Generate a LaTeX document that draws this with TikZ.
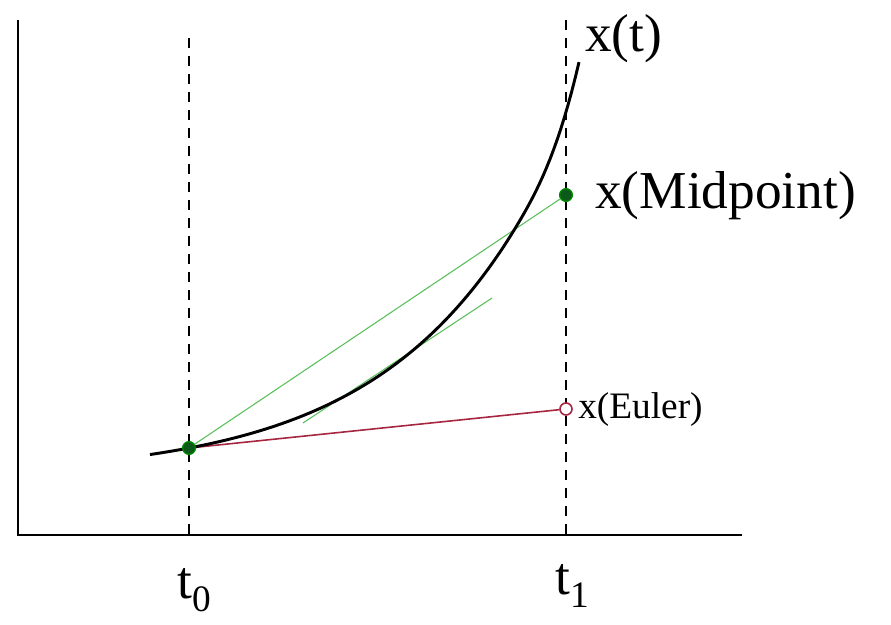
\documentclass[tikz,border=0pt]{standalone}
\usepackage{fontspec}
\setmainfont{Liberation Serif}
\usepackage{xcolor}
\usetikzlibrary{positioning,calc}

\definecolor{midgreen}{rgb}{0.35,0.75,0.35}
\definecolor{dotgreen}{rgb}{0.05,0.35,0.1}
\definecolor{eulerred}{rgb}{0.65,0.15,0.25}

\tikzset{
  axis/.style={line width=2.2pt},
  guide/.style={line width=0.8pt,dash pattern=on 7.5pt off 6pt},
  curve/.style={line width=2.2pt},
  dotfill/.style={draw=green!55!black,fill=dotgreen,circle,inner sep=0pt,minimum size=9.5pt,line width=0.8pt},
  dotopen/.style={draw=eulerred,fill=white,circle,inner sep=0pt,minimum size=9pt,line width=1.2pt},
  biglabel/.style={inner sep=0pt,anchor=base west,font=\fontsize{40}{46}\selectfont},
  smalllabel/.style={inner sep=0pt,anchor=base west,font=\fontsize{28}{32}\selectfont}
}

\begin{document}
\begin{tikzpicture}[x=0.75pt,y=-0.75pt]
\useasboundingbox (0,0) rectangle (891,624);

% axes and time lines
\coordinate (o) at (18,535);
\coordinate (ytop) at (18,20);
\coordinate (xend) at (742,535);
\coordinate (t0top) at (189,38);
\coordinate (t0bot) at (189,535);
\coordinate (t1top) at (566,20);
\coordinate (t1bot) at (566,535);
\draw[axis] (ytop) -- (o) -- (xend);
\draw[guide] (t0top) -- (t0bot);
\draw[guide] (t1top) -- (t1bot);

% the points
\node[dotfill] (start) at (189,448) {};
\node[dotfill] (mid) at (566,195) {};
\node[dotopen] (euler) at (566,409) {};
\coordinate (tana) at (303,423);
\coordinate (tanb) at (492,298);

% steps
\draw[midgreen,line width=0.8pt] (start.center) -- (mid);
\draw[midgreen,line width=0.8pt] (tana) -- (tanb);
\draw[eulerred,line width=1.2pt] (start.center) -- (euler);

% exact solution
\draw[curve] plot[domain=150:579,samples=120]
  (\x,{448-28.8*(exp(0.0066*(\x-189))-1)-0.166*(max(0,\x-519)/10)^3});
\node[dotfill] at (start) {};
\node[dotfill] at (mid) {};

% labels
\node[biglabel] (xt) at (585,52) {x(t)};
\node[biglabel] (xmid) at (595,208) {x(Midpoint)};
\node[smalllabel] (xeul) at (578,418) {x(Euler)};
\node[biglabel] (t0) at (177,598) {t\textsubscript{0}};
\node[biglabel] (t1) at (555,594) {t\textsubscript{1}};
\end{tikzpicture}
\end{document}
